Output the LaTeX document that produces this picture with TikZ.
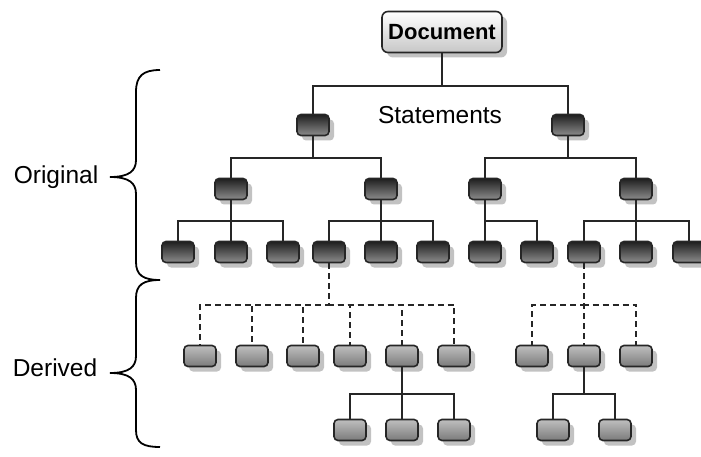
\documentclass[tikz,border=0pt]{standalone}
\usepackage{fontspec}
\setmainfont{Liberation Sans}
\usetikzlibrary{shadows}
\begin{document}
\begin{tikzpicture}[x=1pt,y=-1pt,
  box/.style={rounded corners=4pt, draw=black!85, line width=1.6pt, minimum width=32pt, minimum height=21pt, inner sep=0pt,
    drop shadow={shadow xshift=5pt, shadow yshift=-5pt, fill=black!40, opacity=0.6}},
  orig/.style={box, top color=black!88, bottom color=black!45},
  deriv/.style={box, top color=black!25, bottom color=black!52},
  docbox/.style={box, rounded corners=6pt, minimum width=120pt, minimum height=41pt, top color=white, bottom color=black!22,
    font=\fontsize{22}{25}\selectfont\bfseries},
  link/.style={line width=1.5pt, draw=black!85},
  dlink/.style={link, dash pattern=on 6pt off 4pt},
  lbl/.style={font=\fontsize{24.5}{28}\selectfont, inner sep=0pt},
  bracepath/.style={line width=1.8pt, draw=black}]
\useasboundingbox (0,0) rectangle (701,457);
\clip (0,0) rectangle (701,457);

% document
\node[docbox] (doc) at (442,32) {Document};
\node[lbl] (stm) at (440,115) {Statements};

% level 1
\node[orig] (a1) at (313,125) {};
\node[orig] (a2) at (568,125) {};
% level 2
\node[orig] (b1) at (231,189) {};
\node[orig] (b2) at (381,189) {};
\node[orig] (b3) at (485,189) {};
\node[orig] (b4) at (636,189) {};
% level 3
\foreach \n/\x in {c1/178,c2/231,c3/283,c4/329,c5/381,c6/433,c7/485,c8/537,c9/584,c10/636,c11/689}
  \node[orig] (\n) at (\x,252) {};
% derived
\foreach \n/\x in {d1/200,d2/252,d3/303,d4/350,d5/402,d6/454,d7/532,d8/584,d9/636}
  \node[deriv] (\n) at (\x,356) {};
% derived level 2
\foreach \n/\x in {e1/350,e2/402,e3/454,e4/553,e5/615}
  \node[deriv] (\n) at (\x,430) {};

% connectors
\foreach \c in {a1,a2} \draw[link] (doc.south) -- ++(0,32.5) -| (\c.north);
\foreach \c in {b1,b2} \draw[link] (a1.south) -- ++(0,21.5) -| (\c.north);
\foreach \c in {b3,b4} \draw[link] (a2.south) -- ++(0,21.5) -| (\c.north);
\foreach \c in {c1,c2,c3} \draw[link] (b1.south) -- ++(0,20.5) -| (\c.north);
\foreach \c in {c4,c5,c6} \draw[link] (b2.south) -- ++(0,20.5) -| (\c.north);
\foreach \c in {c7,c8} \draw[link] (b3.south) -- ++(0,20.5) -| (\c.north);
\foreach \c in {c9,c10,c11} \draw[link] (b4.south) -- ++(0,20.5) -| (\c.north);
\foreach \c in {d1,d2,d3,d4,d5,d6} \draw[dlink] (c4.south) -- ++(0,41.5) -| (\c.north);
\foreach \c in {d7,d8,d9} \draw[dlink] (c9.south) -- ++(0,41.5) -| (\c.north);
\foreach \c in {e1,e2,e3} \draw[link] (d5.south) -- ++(0,26.5) -| (\c.north);
\foreach \c in {e4,e5} \draw[link] (d8.south) -- ++(0,26.5) -| (\c.north);

% braces
\draw[bracepath] (160,70) .. controls (143,70) and (136,76) .. (136,92) -- (136,160)
  .. controls (136,171) and (129,177) .. (110,177)
  .. controls (129,177) and (136,183) .. (136,194) -- (136,262)
  .. controls (136,275) and (143,280) .. (160,280);
\draw[bracepath] (160,280) .. controls (143,280) and (136,285) .. (136,298) -- (136,356)
  .. controls (136,367) and (129,373) .. (110,373)
  .. controls (129,373) and (136,379) .. (136,390) -- (136,430)
  .. controls (136,443) and (143,447) .. (160,447);
\node[lbl] (orig) at (56,177) {Original};
\node[lbl] (der) at (55,368) {Derived};
\end{tikzpicture}
\end{document}
